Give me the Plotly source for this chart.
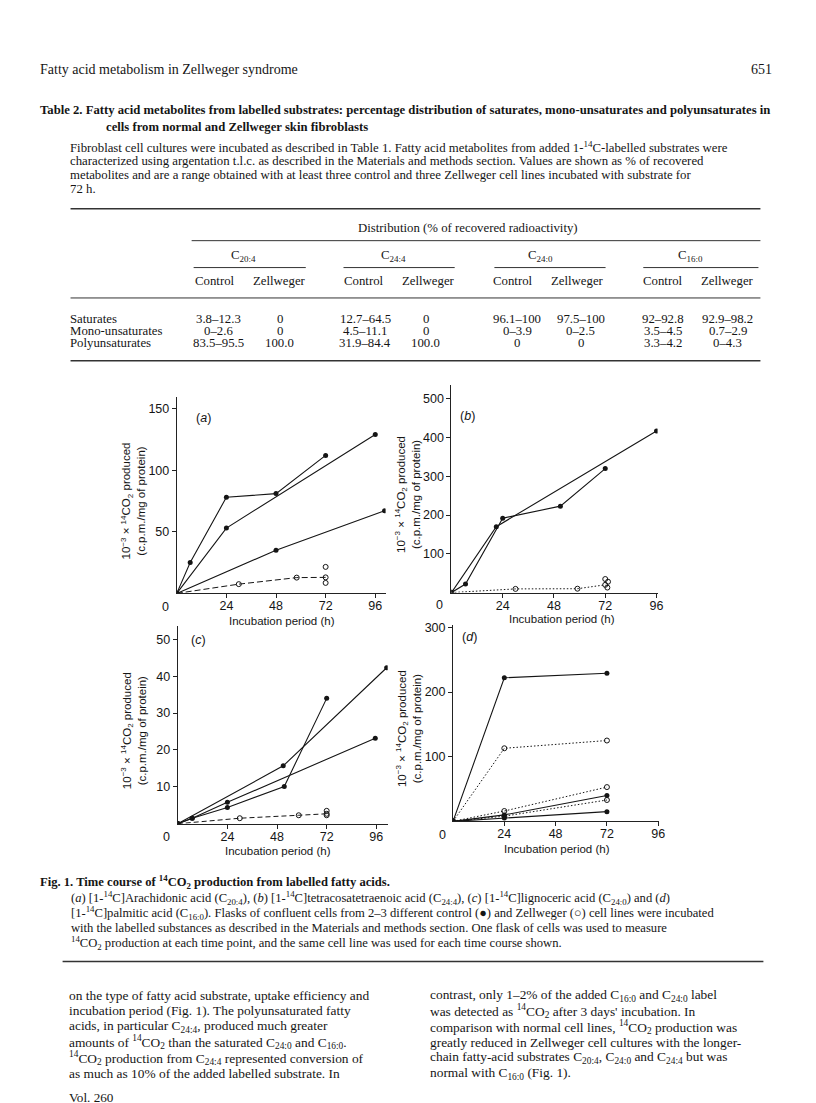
import plotly.graph_objects as go

W, H = 816, 1103
SERIF = "Liberation Serif"
SANS = "Liberation Sans"
INK = "#151515"

# ---------------- data ----------------
# (a) [1-14C]arachidonic acid, C20:4
a_c1_t = [0, 6.5, 24, 48, 72];   a_c1_v = [0, 25, 78, 81, 112]
a_c2_t = [0, 24, 96];            a_c2_v = [0, 53, 129]
a_c3_t = [0, 48, 100.5];         a_c3_v = [0, 35, 67]
a_z_t = [0, 30, 58, 72];         a_z_v = [0, 7.5, 12.8, 13]
a_zx_t = [72, 72];               a_zx_v = [21.5, 8.5]
# (b) [1-14C]tetracosatetraenoic acid, C24:4
b_c1_t = [0, 6.6, 24, 51, 72];   b_c1_v = [0, 22, 192, 223, 320]
b_c2_t = [0, 21, 96];            b_c2_v = [0, 170, 417]
b_z_t = [0, 30, 59, 72];         b_z_v = [0, 9.5, 10, 20]
b_zx_t = [72, 73.3, 73];         b_zx_v = [35, 28, 13]
# (c) [1-14C]lignoceric acid, C24:0
c_c1_t = [0, 51, 101];           c_c1_v = [0, 15.7, 42.3]
c_c2_t = [0, 7, 24, 51.5, 72];   c_c2_v = [0, 1.5, 4.4, 10.1, 34]
c_c3_t = [0, 7, 24, 95.5];       c_c3_v = [0, 1.5, 5.8, 23.2]
c_z_t = [0, 30, 58.5, 72];       c_z_v = [0, 1.5, 2.3, 2.7]
c_zx_t = [72, 72];               c_zx_v = [3.5, 2.3]
# (d) [1-14C]palmitic acid, C16:0
d_t = [0, 24, 72]
d_c1_v = [0, 222, 229]
d_c2_v = [0, 10, 40]
d_c3_v = [0, 5, 15]
d_z1_v = [0, 113, 125]
d_z2_v = [0, 16, 53]
d_z3_v = [0, 8, 33]

x_ticks = [24, 48, 72, 96]
a_yticks = [50, 100, 150]
b_yticks = [100, 200, 300, 400, 500]
c_yticks = [10, 20, 30, 40, 50]
d_yticks = [100, 200, 300]

# table values
tbl_groups = ["C<sub>20:4</sub>", "C<sub>24:4</sub>", "C<sub>24:0</sub>", "C<sub>16:0</sub>"]
tbl_rows = ["Saturates", "Mono-unsaturates", "Polyunsaturates"]
tbl_sat = ["3.8–12.3", "0", "12.7–64.5", "0", "96.1–100", "97.5–100", "92–92.8", "92.9–98.2"]
tbl_mono = ["0–2.6", "0", "4.5–11.1", "0", "0–3.9", "0–2.5", "3.5–4.5", "0.7–2.9"]
tbl_poly = ["83.5–95.5", "100.0", "31.9–84.4", "100.0", "0", "0", "3.3–4.2", "0–4.3"]

# ---------------- helpers ----------------
def fx(x):
    return x / W

def fy(y):
    return 1 - y / H

fig = go.Figure()
annotations = []
shapes = []

def txt(x, y, s, size, anchor="left", family=SERIF, angle=0, color=INK):
    annotations.append(dict(x=fx(x), y=fy(y), xref="paper", yref="paper", text=s,
                            showarrow=False, xanchor=anchor, yanchor="middle",
                            textangle=angle, borderpad=0,
                            font=dict(family=family, size=size, color=color)))

def hline(x0, x1, y, w=1.0, color="#333"):
    shapes.append(dict(type="line", xref="paper", yref="paper", x0=fx(x0), x1=fx(x1),
                       y0=fy(y), y1=fy(y), line=dict(color=color, width=w)))

def ctrl(t, v, ax, ay):
    fig.add_trace(go.Scatter(x=t, y=v, xaxis=ax, yaxis=ay, mode="lines+markers",
                             line=dict(color=INK, width=1.1),
                             marker=dict(symbol="circle", size=5, color=INK),
                             hoverinfo="skip"))

def zell(t, v, ax, ay, dash):
    fig.add_trace(go.Scatter(x=t, y=v, xaxis=ax, yaxis=ay, mode="lines+markers",
                             line=dict(color=INK, width=1, dash=dash),
                             marker=dict(symbol="circle-open", size=5, color=INK, line=dict(width=1)),
                             hoverinfo="skip"))

def opens(t, v, ax, ay):
    fig.add_trace(go.Scatter(x=t, y=v, xaxis=ax, yaxis=ay, mode="markers",
                             marker=dict(symbol="circle-open", size=5, color=INK, line=dict(width=1)),
                             hoverinfo="skip"))

# ---------------- traces ----------------
LONGDASH = "6px,3px"
DOT = "1.5px,2px"
DASH = "5px,3px"

ctrl(a_c1_t, a_c1_v, "x", "y"); ctrl(a_c2_t, a_c2_v, "x", "y"); ctrl(a_c3_t, a_c3_v, "x", "y")
zell(a_z_t, a_z_v, "x", "y", LONGDASH); opens(a_zx_t, a_zx_v, "x", "y")

ctrl(b_c1_t, b_c1_v, "x2", "y2"); ctrl(b_c2_t, b_c2_v, "x2", "y2")
zell(b_z_t, b_z_v, "x2", "y2", DOT); opens(b_zx_t, b_zx_v, "x2", "y2")

ctrl(c_c1_t, c_c1_v, "x3", "y3"); ctrl(c_c2_t, c_c2_v, "x3", "y3"); ctrl(c_c3_t, c_c3_v, "x3", "y3")
zell(c_z_t, c_z_v, "x3", "y3", DASH); opens(c_zx_t, c_zx_v, "x3", "y3")

ctrl(d_t, d_c1_v, "x4", "y4"); ctrl(d_t, d_c2_v, "x4", "y4"); ctrl(d_t, d_c3_v, "x4", "y4")
zell(d_t, d_z1_v, "x4", "y4", DOT); zell(d_t, d_z2_v, "x4", "y4", DOT); zell(d_t, d_z3_v, "x4", "y4", DOT)

# ---------------- axes ----------------
def axis_common():
    return dict(showline=True, linecolor="#222", linewidth=1, ticks="outside", ticklen=4,
                tickwidth=1, tickcolor="#222", showgrid=False, zeroline=False, fixedrange=True,
                tickfont=dict(family=SANS, size=12.5, color=INK))

panels = {
    "a": dict(x0=170, x1=380.4, y0=386.9, y1=583.5, xr=[0, 101], yr=[0, 159], yt=a_yticks, ax="x", ay="y"),
    "b": dict(x0=446.7, x1=654.4, y0=374.6, y1=582.7, xr=[0, 96.5], yr=[0, 535], yt=b_yticks, ax="x2", ay="y2"),
    "c": dict(x0=171, x1=382.5, y0=616.7, y1=814.7, xr=[0, 101.5], yr=[0, 53.5], yt=c_yticks, ax="x3", ay="y3"),
    "d": dict(x0=448.3, x1=655.7, y0=615.0, y1=812.3, xr=[0, 96.3], yr=[0, 304], yt=d_yticks, ax="x4", ay="y4"),
}
layout_axes = {}
for key, p in panels.items():
    xn = "xaxis" + p["ax"][1:]
    yn = "yaxis" + p["ay"][1:]
    xa = axis_common()
    xa.update(domain=[fx(p["x0"]), fx(p["x1"])], range=p["xr"], tickvals=x_ticks,
              anchor=p["ay"], ticklabelstandoff=-3)
    ya = axis_common()
    ya.update(domain=[fy(p["y1"]), fy(p["y0"])], range=p["yr"], tickvals=p["yt"],
              anchor=p["ax"])
    layout_axes[xn] = xa
    layout_axes[yn] = ya

YT = "10<sup>−3</sup> × <sup>14</sup>CO<sub>2</sub> produced<br>(c.p.m./mg of protein)"
for key, p, zx, zy, lx, ly, tx, ty, yx in [
    ("a", panels["a"], 158.5, 597, 197, 407, 276, 611, 126),
    ("b", panels["b"], 435, 595, 463, 405, 558, 609, 403),
    ("c", panels["c"], 159.5, 828.5, 192, 630, 272, 842, 126),
    ("d", panels["d"], 438, 826, 465, 627, 553, 840, 403),
]:
    txt(zx, zy, "0", 12.5, anchor="center", family=SANS)
    txt(lx, ly, "(<i>%s</i>)" % key, 12.5, anchor="center", family=SANS)
    txt(tx, ty, "Incubation period (h)", 11.5, anchor="center", family=SANS)
    txt(yx, (p["y0"] + p["y1"]) / 2 + 6, YT, 11.5, anchor="center", family=SANS, angle=-90)

# ---------------- page text ----------------
txt(31, 58, "Fatty acid metabolism in Zellweger syndrome", 14)
txt(771, 58, "651", 14, anchor="right")

txt(31, 98, "<b>Table 2. Fatty acid metabolites from labelled substrates: percentage distribution of saturates, mono-unsaturates and polyunsaturates in</b>", 12.7)
txt(98, 115, "<b>cells from normal and Zellweger skin fibroblasts</b>", 12.7)

para = [
    "Fibroblast cell cultures were incubated as described in Table 1. Fatty acid metabolites from added 1-<sup>14</sup>C-labelled substrates were",
    "characterized using argentation t.l.c. as described in the Materials and methods section. Values are shown as % of recovered",
    "metabolites and are a range obtained with at least three control and three Zellweger cell lines incubated with substrate for",
    "72 h.",
]
for i, s in enumerate(para):
    txt(61, 135.5 + i * 14.2, s, 12.8)

# table
hline(63, 758, 197.5, 1.6)
txt(463, 216.7, "Distribution (% of recovered radioactivity)", 12.8, anchor="center")
hline(185, 758, 229.5, 1.0)
group_x = [237, 388, 536, 688]
rule_x = [(187, 300), (338, 450), (490, 602), (640, 756)]
for g, gx, (r0, r1) in zip(tbl_groups, group_x, rule_x):
    txt(gx, 245, g, 12.8, anchor="center")
    hline(r0, r1, 256.5, 1.0)
col_x = [209, 274, 359, 424, 509, 574, 660, 725]
for i, cx in enumerate(col_x):
    txt(cx, 269.5, "Control" if i % 2 == 0 else "Zellweger", 12.8, anchor="center")
hline(63, 758, 287, 1.0)

row_y = [308.5, 320.2, 331.9]
val_x = [212, 274, 360, 421, 513, 577, 660, 725]
for lab, ry, vals in zip(tbl_rows, row_y, [tbl_sat, tbl_mono, tbl_poly]):
    txt(61, ry, lab, 12.8)
    for vx, v in zip(val_x, vals):
        txt(vx, ry, v, 12.8, anchor="center")
hline(63, 758, 350, 1.6)

# figure caption
txt(31, 873, "<b>Fig. 1. Time course of <sup>14</sup>CO<sub>2</sub> production from labelled fatty acids.</b>", 12.6)
cap = [
    "(<i>a</i>) [1-<sup>14</sup>C]Arachidonic acid (C<sub>20:4</sub>), (<i>b</i>) [1-<sup>14</sup>C]tetracosatetraenoic acid (C<sub>24:4</sub>), (<i>c</i>) [1-<sup>14</sup>C]lignoceric acid (C<sub>24:0</sub>) and (<i>d</i>)",
    "[1-<sup>14</sup>C]palmitic acid (C<sub>16:0</sub>). Flasks of confluent cells from 2–3 different control (●) and Zellweger (○) cell lines were incubated",
    "with the labelled substances as described in the Materials and methods section. One flask of cells was used to measure",
    "<sup>14</sup>CO<sub>2</sub> production at each time point, and the same cell line was used for each time course shown.",
]
for i, s in enumerate(cap):
    txt(62, 889 + i * 15.2, s, 12.6)
hline(55, 761, 953, 1.6)

left_col = [
    "on the type of fatty acid substrate, uptake efficiency and",
    "incubation period (Fig. 1). The polyunsaturated fatty",
    "acids, in particular C<sub>24:4</sub>, produced much greater",
    "amounts of <sup>14</sup>CO<sub>2</sub> than the saturated C<sub>24:0</sub> and C<sub>16:0</sub>.",
    "<sup>14</sup>CO<sub>2</sub> production from C<sub>24:4</sub> represented conversion of",
    "as much as 10% of the added labelled substrate. In",
]
right_col = [
    "contrast, only 1–2% of the added C<sub>16:0</sub> and C<sub>24:0</sub> label",
    "was detected as <sup>14</sup>CO<sub>2</sub> after 3 days' incubation. In",
    "comparison with normal cell lines, <sup>14</sup>CO<sub>2</sub> production was",
    "greatly reduced in Zellweger cell cultures with the longer-",
    "chain fatty-acid substrates C<sub>20:4</sub>, C<sub>24:0</sub> and C<sub>24:4</sub> but was",
    "normal with C<sub>16:0</sub> (Fig. 1).",
]
for i, s in enumerate(left_col):
    txt(60, 987 + i * 15.6, s, 13.4)
for i, s in enumerate(right_col):
    txt(424, 987 + i * 15.6, s, 13.4)
txt(60, 1089, "Vol. 260", 13.2)

fig.update_layout(
    width=W, height=H, autosize=False,
    margin=dict(l=0, r=0, t=0, b=0),
    paper_bgcolor="white", plot_bgcolor="white",
    showlegend=False,
    annotations=annotations, shapes=shapes,
    **layout_axes,
)

fig.write_html("out.html")
